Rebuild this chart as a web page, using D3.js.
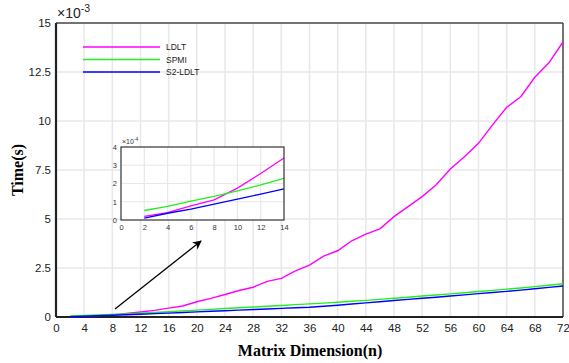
<!DOCTYPE html>
<html>
<head>
<meta charset="utf-8">
<script src="https://cdn.jsdelivr.net/npm/d3@7"></script>
<style>
  body { margin: 0; background: #fff; }
  svg { font-family: "Liberation Sans", Arial, sans-serif; }
</style>
</head>
<body>
<script>
// matrix sizes and timings (x 10^-3 s)
var dims = [2,4,6,8,10,12,14,16,18,20,22,24,26,28,30,32,34,36,38,40,42,44,46,48,50,52,54,56,58,60,62,64,66,68,70,72];
var ldlt = [0.02,0.04,0.078,0.11,0.175,0.255,0.34,0.45,0.56,0.78,0.95,1.15,1.35,1.52,1.82,1.97,2.35,2.65,3.11,3.38,3.89,4.23,4.5,5.12,5.63,6.14,6.75,7.55,8.18,8.86,9.8,10.7,11.24,12.23,12.97,14.03];
var spmi = [0.052,0.075,0.103,0.13,0.16,0.192,0.228,0.27,0.31,0.35,0.39,0.43,0.47,0.51,0.55,0.59,0.63,0.67,0.71,0.75,0.8,0.85,0.9,0.96,1.01,1.07,1.12,1.18,1.24,1.3,1.36,1.42,1.48,1.55,1.62,1.7];
var s2ldlt = [0.01,0.037,0.06,0.087,0.115,0.142,0.17,0.2,0.23,0.26,0.29,0.32,0.35,0.38,0.41,0.44,0.47,0.5,0.55,0.6,0.66,0.72,0.78,0.84,0.9,0.96,1.01,1.07,1.13,1.19,1.25,1.31,1.37,1.44,1.51,1.58];
// inset (x 10^-4 s)
var insetDims = [2,4,6,8,10,12,14];
var insetLdlt = [0.2,0.4,0.78,1.1,1.75,2.55,3.4];
var insetSpmi = [0.52,0.75,1.03,1.3,1.6,1.92,2.28];
var insetS2 = [0.1,0.37,0.6,0.87,1.15,1.42,1.7];

var xTicks = d3.range(0, 73, 4);
var yTicks = [0, 2.5, 5, 7.5, 10, 12.5, 15];
var names = ["LDLT", "SPMI", "S2-LDLT"];
var colors = ["#ff00ff", "#22ee22", "#0000ff"];

var W = 569, H = 363;
var margin = {left:56, right:6, top:23, bottom:46};
var width = W - margin.left - margin.right, height = H - margin.top - margin.bottom;

var svg = d3.select("body").append("svg").attr("width", W).attr("height", H);
var g = svg.append("g").attr("transform", "translate(" + margin.left + "," + margin.top + ")");

var x = d3.scaleLinear().domain([0, 72]).range([0, width]);
var y = d3.scaleLinear().domain([0, 15]).range([height, 0]);

// grid
g.append("g").selectAll("line").data(xTicks.slice(1, -1)).enter().append("line")
  .attr("x1", d => x(d)).attr("x2", d => x(d)).attr("y1", 0).attr("y2", height)
  .attr("stroke", "#e8e8e8").attr("stroke-width", 1.5);
g.append("g").selectAll("line").data(yTicks.slice(1, -1)).enter().append("line")
  .attr("y1", d => y(d)).attr("y2", d => y(d)).attr("x1", 0).attr("x2", width)
  .attr("stroke", "#e8e8e8").attr("stroke-width", 1.5);

// axes
var xAxis = g.append("g").attr("transform", "translate(0," + height + ")")
  .call(d3.axisBottom(x).tickValues(xTicks).tickSize(0).tickPadding(7));
var yAxis = g.append("g")
  .call(d3.axisLeft(y).tickValues(yTicks).tickSize(0).tickPadding(5).tickFormat(d3.format("")));
[xAxis, yAxis].forEach(a => {
  a.select(".domain").remove();
  a.selectAll("text").attr("font-size", 11.5).attr("fill", "#222").attr("font-family", "Liberation Sans, Arial, sans-serif");
});
g.append("line").attr("x1", 0).attr("x2", width).attr("y1", 0).attr("y2", 0).attr("stroke", "#444").attr("stroke-width", 1.5);
g.append("line").attr("x1", width).attr("x2", width).attr("y1", 0).attr("y2", height).attr("stroke", "#444").attr("stroke-width", 1.5);
g.append("line").attr("x1", 0).attr("x2", width).attr("y1", height).attr("y2", height).attr("stroke", "#222").attr("stroke-width", 2.2);
g.append("line").attr("x1", 0).attr("x2", 0).attr("y1", 0).attr("y2", height).attr("stroke", "#222").attr("stroke-width", 2.2);

// exponent label
var ex = g.append("text").attr("x", 1).attr("y", -5).attr("font-size", 14).attr("fill", "#222");
ex.append("tspan").text("\u00d710");
ex.append("tspan").attr("dy", -6).attr("font-size", 10.5).text("-3");

// lines
var line = d3.line().x((d, i) => x(dims[i])).y(d => y(d));
[ldlt, spmi, s2ldlt].forEach((s, k) => {
  g.append("path").datum(s).attr("d", line).attr("fill", "none")
    .attr("stroke", colors[k]).attr("stroke-width", 1.4);
});

// legend
names.forEach((n, i) => {
  var ly = 24 + i * 12.5;
  g.append("line").attr("x1", 27).attr("x2", 104).attr("y1", ly).attr("y2", ly)
    .attr("stroke", colors[i]).attr("stroke-width", 1.4);
  g.append("text").attr("x", 110).attr("y", ly + 3).attr("font-size", 8.5).attr("fill", "#222").text(n);
});

// axis titles
svg.append("text").attr("x", 310).attr("y", 356).attr("text-anchor", "middle")
  .attr("font-family", "Liberation Serif, Times New Roman, serif").attr("font-weight", "bold")
  .attr("font-size", 16).text("Matrix Dimension(n)");
svg.append("text").attr("transform", "translate(23,170) rotate(-90)").attr("text-anchor", "middle")
  .attr("font-family", "Liberation Serif, Times New Roman, serif").attr("font-weight", "bold")
  .attr("font-size", 16).text("Time(s)");

// arrow
svg.append("defs").append("marker").attr("id", "arr").attr("viewBox", "0 0 10 10")
  .attr("refX", 9).attr("refY", 5).attr("markerWidth", 7).attr("markerHeight", 7).attr("orient", "auto")
  .append("path").attr("d", "M0,0 L10,5 L0,10 L3,5 Z").attr("fill", "#000");
svg.append("line").attr("x1", 115).attr("y1", 309).attr("x2", 201).attr("y2", 241)
  .attr("stroke", "#000").attr("stroke-width", 1.3).attr("marker-end", "url(#arr)");

// inset
var ins = {x:121, y:147, w:163, h:73};
var ig = svg.append("g").attr("transform", "translate(" + ins.x + "," + ins.y + ")");
var ix = d3.scaleLinear().domain([0, 14]).range([0, ins.w]);
var iy = d3.scaleLinear().domain([0, 4]).range([ins.h, 0]);
ig.append("rect").attr("width", ins.w).attr("height", ins.h).attr("fill", "#fff");
ig.append("g").selectAll("line").data(d3.range(2, 14, 2)).enter().append("line")
  .attr("x1", d => ix(d)).attr("x2", d => ix(d)).attr("y1", 0).attr("y2", ins.h)
  .attr("stroke", "#e8e8e8").attr("stroke-width", 1.2);
ig.append("g").selectAll("line").data([1, 2, 3]).enter().append("line")
  .attr("y1", d => iy(d)).attr("y2", d => iy(d)).attr("x1", 0).attr("x2", ins.w)
  .attr("stroke", "#e8e8e8").attr("stroke-width", 1.2);
var iline = d3.line().x((d, i) => ix(insetDims[i])).y(d => iy(d));
[insetLdlt, insetSpmi, insetS2].forEach((s, k) => {
  ig.append("path").datum(s).attr("d", iline).attr("fill", "none")
    .attr("stroke", colors[k]).attr("stroke-width", 1.3);
});
ig.append("rect").attr("width", ins.w).attr("height", ins.h).attr("fill", "none")
  .attr("stroke", "#333").attr("stroke-width", 1.2);
var ixa = ig.append("g").attr("transform", "translate(0," + ins.h + ")")
  .call(d3.axisBottom(ix).tickValues(d3.range(0, 15, 2)).tickSize(0).tickPadding(5));
var iya = ig.append("g").call(d3.axisLeft(iy).tickValues([0, 1, 2, 3, 4]).tickSize(0).tickPadding(4).tickFormat(d3.format("d")));
[ixa, iya].forEach(a => {
  a.select(".domain").remove();
  a.selectAll("text").attr("font-size", 7.5).attr("fill", "#333").attr("font-family", "Liberation Sans, Arial, sans-serif");
});
var iex = ig.append("text").attr("x", 1).attr("y", -3).attr("font-size", 7).attr("fill", "#333");
iex.append("tspan").text("\u00d710");
iex.append("tspan").attr("dy", -3).attr("font-size", 5).text("-4");
</script>
</body>
</html>
